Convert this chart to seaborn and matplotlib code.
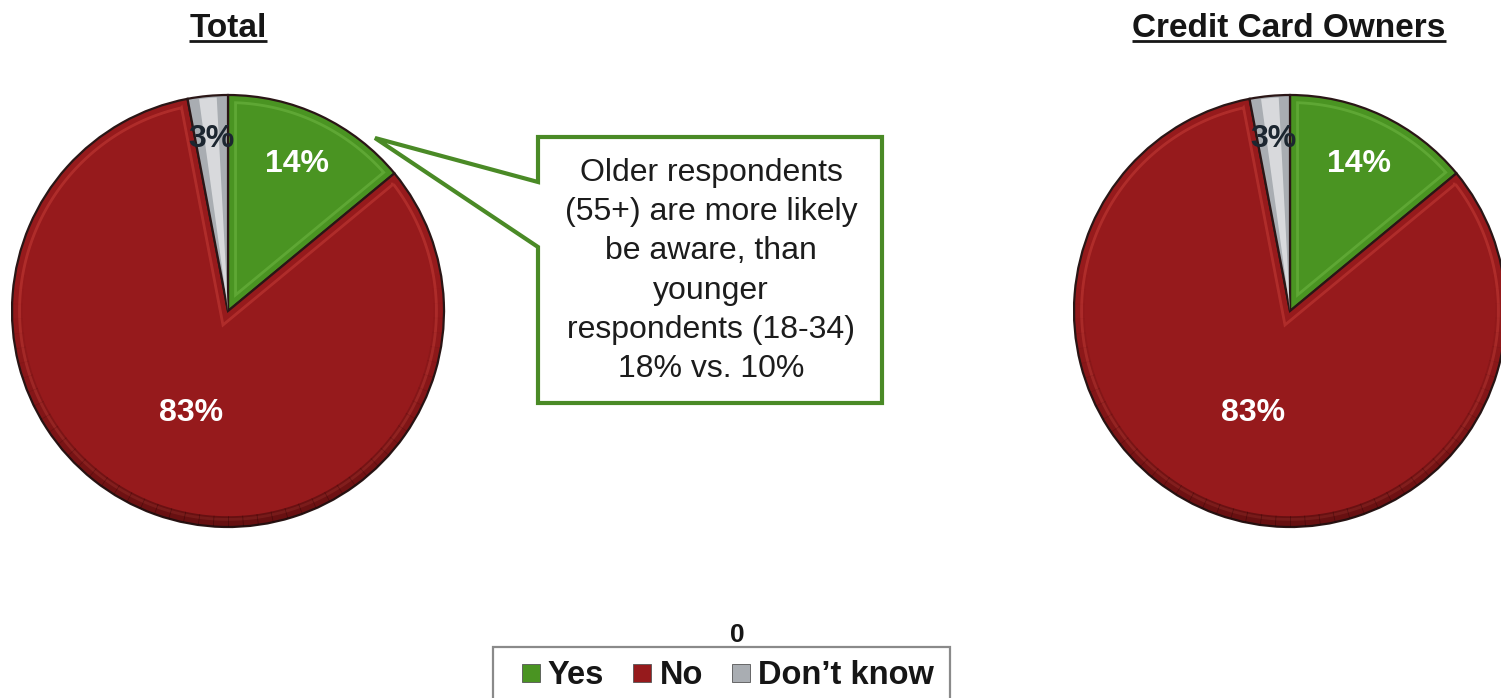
import numpy as np
import matplotlib
matplotlib.use("Agg")
import matplotlib.pyplot as plt
from matplotlib.patches import Polygon, Wedge, Rectangle
from matplotlib.lines import Line2D
import seaborn as sns

# ---- data -------------------------------------------------------------
categories = ["Yes", "No", "Don\u2019t know"]
total_values = [14, 83, 3]
owners_values = [14, 83, 3]
panel_titles = ["Total", "Credit Card Owners"]
callout_text = ("Older respondents\n(55+) are more likely\nbe aware, than\n"
                "younger\nrespondents (18-34)\n18% vs. 10%")
legend_title = "0"

# ---- style ------------------------------------------------------------
sns.set_theme(style="white")
plt.rcParams["font.family"] = ["Liberation Sans", "DejaVu Sans"]

palette = ["#4a9422", "#961a1c", "#a9adb2"]
highlight = ["#7cc24e", "#d4473f", "#ffffff"]
label_colors = ["white", "white", "#1c2630"]
label_radius = [0.75, 0.50, 0.80]

W, H = 1501, 698
fig = plt.figure(figsize=(W / 100, H / 100), dpi=100)
fig.patch.set_facecolor("white")


def fx(x):
    return x / W


def fy(y):
    return 1 - y / H


def pie_axes(cx, cy, r):
    return fig.add_axes([(cx - r) / W, (H - cy - r) / H, 2 * r / W, 2 * r / H])


def inset_outline(theta1, theta2, r, d, n=240):
    """Outline of a wedge shrunk inwards by distance d (bevel highlight)."""
    t1, t2 = np.radians(theta1), np.radians(theta2)
    phi, h = (t1 + t2) / 2, (t2 - t1) / 2
    apex = d / np.sin(h) * np.array([np.cos(phi), np.sin(phi)])
    rr = r - d

    def hit(t):
        u = np.array([np.cos(t), np.sin(t)])
        b = apex @ u
        s = -b + np.sqrt(b * b - apex @ apex + rr * rr)
        p = apex + s * u
        return p, np.arctan2(p[1], p[0])

    p1, a1 = hit(t1)
    p2, a2 = hit(t2)
    while a2 <= a1:
        a2 += 2 * np.pi
    arc = np.linspace(a1, a2, n)
    pts = [apex, p1] + [np.array([rr * np.cos(a), rr * np.sin(a)]) for a in arc] + [p2]
    return np.array(pts)


def draw_pie(ax, values):
    wedges, _ = ax.pie(values, colors=palette, startangle=90, counterclock=False,
                       radius=1.0,
                       wedgeprops=dict(linewidth=1.6, edgecolor="#2a1616"))
    ax.set_xlim(-1.0, 1.0)
    ax.set_ylim(-1.0, 1.0)
    ax.set_aspect("equal")
    ax.axis("off")

    for i, w in enumerate(wedges):
        # bevel highlight just inside each slice edge
        if i < 2:
            pts = inset_outline(w.theta1, w.theta2, 1.0, 0.035)
            ax.add_patch(Polygon(pts, closed=True, fill=False,
                                 edgecolor=highlight[i], linewidth=2.0,
                                 alpha=0.42, zorder=3))
        else:
            mid = (w.theta1 + w.theta2) / 2
            span = (w.theta2 - w.theta1) * 0.22
            ax.add_patch(Wedge((0, 0), 0.99, mid - span, mid + span,
                               facecolor="white", edgecolor="none",
                               alpha=0.55, zorder=3))

    # darker rim along the lower edge, fading out towards the sides
    for a0 in np.arange(170, 370, 4):
        strength = np.sin(np.radians(a0 + 2 - 170) * 180 / 200) ** 1.5
        ax.add_patch(Wedge((0, 0), 1.0, a0, a0 + 4.2, width=0.05,
                           facecolor="#1a0000", edgecolor="none",
                           alpha=0.38 * strength, zorder=3))

    # percentage labels
    for i, (w, v) in enumerate(zip(wedges, values)):
        mid = np.radians((w.theta1 + w.theta2) / 2)
        x, y = label_radius[i] * np.cos(mid), label_radius[i] * np.sin(mid)
        t = ax.text(x, y, f"{v}%", ha="center", va="center", fontsize=23,
                    fontweight="bold", color=label_colors[i], zorder=5)
        if i == 2:
            # small slice label is hidden where it overlaps the large slice
            no = wedges[1]
            clip = Wedge((0, 0), 1.0, no.theta2, no.theta1 + 360,
                         transform=ax.transData)
            t.set_clip_path(clip)
    return wedges


ax_left = pie_axes(228, 311, 216)
draw_pie(ax_left, total_values)
ax_right = pie_axes(1290, 311, 216)
draw_pie(ax_right, owners_values)

# ---- panel titles (bold, underlined) ---------------------------------
title_objs = []
for cx, title in zip([228, 1289], panel_titles):
    t = fig.text(fx(cx), fy(37), title, ha="center", va="baseline",
                 fontsize=24, fontweight="bold", color="#161616")
    title_objs.append(t)

fig.canvas.draw()
renderer = fig.canvas.get_renderer()
for t in title_objs:
    bb = t.get_window_extent(renderer)
    fig.add_artist(Line2D([bb.x0 / W, bb.x1 / W], [fy(41), fy(41)],
                          transform=fig.transFigure, color="#161616",
                          linewidth=2.0, solid_capstyle="butt"))

# ---- callout ----------------------------------------------------------
callout = [(538, 137), (882, 137), (882, 403), (538, 403), (538, 247),
           (375, 138), (538, 182)]
fig.add_artist(Polygon([(fx(x), fy(y)) for x, y in callout], closed=True,
                       transform=fig.transFigure, facecolor="white",
                       edgecolor="#4a8a26", linewidth=3.0, joinstyle="miter",
                       zorder=6))
fig.text(fx(711), fy(271), callout_text, ha="center", va="center",
         fontsize=23, linespacing=1.40, color="#1c1c1c", zorder=7)

# ---- legend -----------------------------------------------------------
fig.add_artist(Rectangle((fx(493), fy(706)), (950 - 493) / W, (706 - 647) / H,
                         transform=fig.transFigure, facecolor="white",
                         edgecolor="#8a8a8a", linewidth=1.6, zorder=1))
handles = [Line2D([], [], marker="s", linestyle="none", markersize=12.5,
                  markerfacecolor=c, markeredgecolor="#555555",
                  markeredgewidth=0.6) for c in palette]
leg = fig.legend(handles, categories, loc="upper left",
                 bbox_to_anchor=(fx(520), fy(660)), ncol=3, frameon=False,
                 prop=dict(weight="bold", size=23.5), handlelength=0.65,
                 handletextpad=0.2, columnspacing=0.85, borderpad=0,
                 borderaxespad=0)
for txt in leg.get_texts():
    txt.set_color("#161616")
leg.set_zorder(2)
fig.text(fx(737), fy(642), legend_title, ha="center", va="baseline",
         fontsize=19, fontweight="bold", color="#161616", zorder=3)

fig.savefig("out.png", dpi=100, facecolor="white")
